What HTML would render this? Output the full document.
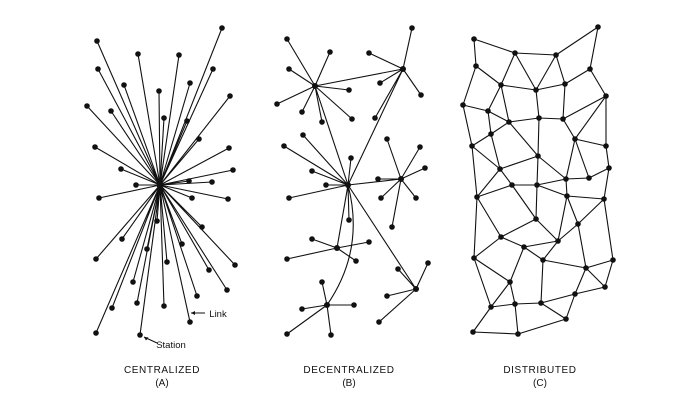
<!DOCTYPE html>
<html><head><meta charset="utf-8"><style>
html,body{margin:0;padding:0;background:#fff;width:684px;height:410px;overflow:hidden}
svg{display:block}
text{font-family:"Liberation Sans",sans-serif;fill:#111}
</style></head><body>
<svg width="684" height="410" viewBox="0 0 684 410" xmlns="http://www.w3.org/2000/svg">
<g stroke="#111" stroke-width="1.1" fill="none">
<!-- A -->
<path d="M160 185L97 41M160 185L222 28M160 185L138 54M160 185L179 55M160 185L98 69M160 185L213 69M160 185L124 85M160 185L190 83M160 185L159 91M160 185L230 96M160 185L87 106M160 185L111 111M160 185L164 118M160 185L187 121M160 185L199 139M160 185L95 147M160 185L229 148M160 185L121 169M160 185L233 170M160 185L189 181M160 185L212 182M160 185L136 185M160 185L99 198M160 185L192 198M160 185L228 199M160 185L157 221M160 185L202 227M160 185L122 239M160 185L182 244M160 185L147 249M160 185L96 259M160 185L167 262M160 185L235 265M160 185L209 270M160 185L133 282M160 185L227 290M160 185L197 296M160 185L137 303M160 185L164 306M160 185L112 308M160 185L190 322M160 185L96 333M160 185L140 335"/>
<path d="M191 313L205 313M157 343L144 337"/>
<!-- B -->
<path d="M315 86L287 39M315 86L330 52M315 86L289 69M315 86L349 90M315 86L277 104M315 86L302 112M315 86L322 122M315 86L352 119M315 86L403 69M315 86L348 185
M403 69L412 28M403 69L369 53M403 69L380 83M403 69L421 95M403 69L375 118M403 69L348 185
M348 185L303 135M348 185L284 146M348 185L351 158M348 185L312 171M348 185L326 185M348 185L289 198M348 185L349 220M348 185L401 179M348 185L416 289M348 185L337 248M348 185Q365 250 327 305
M401 179L387 139M401 179L420 147M401 179L425 168M401 179L378 179M401 179L381 198M401 179L416 198M401 179L392 227
M337 248L312 239M337 248L369 242M337 248L287 259M337 248L356 261
M327 305L322 282M327 305L302 309M327 305L354 305M327 305L287 334M327 305L331 335
M416 289L428 263M416 289L398 269M416 289L387 296M416 289L379 322"/>
<!-- C -->
<path d="M474 39L515 53M474 39L476 66M515 53L556 55M556 55L598 27M598 27L590 69M515 53L501 85M515 53L536 90M556 55L536 90M556 55L565 84M476 66L501 85M476 66L463 105M590 69L565 84M590 69L606 96M501 85L536 90M536 90L565 84M501 85L488 111M501 85L509 122M536 90L539 118M565 84L563 119M463 105L488 111M488 111L509 122M488 111L491 134M509 122L539 118M539 118L563 119M606 96L563 119M606 96L575 139M606 96L606 146M463 105L472 146M491 134L509 122M491 134L472 146M509 122L538 156M539 118L538 156M563 119L575 139M575 139L606 146M575 139L566 179M575 139L589 178M606 146L609 168M472 146L500 169M472 146L477 197M538 156L500 169M538 156L566 179M538 156L537 185M491 134L500 169M500 169L512 185M500 169L477 197M512 185L537 185M537 185L566 179M566 179L589 178M589 178L609 168M609 168L604 199M566 179L567 196M537 185L567 196M567 196L604 199M477 197L512 185M512 185L536 219M537 185L536 219M567 196L578 224M567 196L558 241M604 199L578 224M604 199L613 260M477 197L501 237M477 197L474 258M536 219L501 237M536 219L558 241M501 237L524 247M524 247L558 241M558 241L578 224M578 224L586 268M558 241L543 260M524 247L543 260M543 260L586 268M524 247L510 282M474 258L501 237M474 258L510 282M474 258L491 307M543 260L541 303M510 282L491 307M510 282L515 304M586 268L605 287M613 260L605 287M613 260L586 268M586 268L575 294M605 287L575 294M575 294L541 303M515 304L541 303M491 307L515 304M541 303L566 319M575 294L566 319M491 307L473 332M515 304L518 334M473 332L518 334M518 334L566 319"/>
</g>
<g fill="#111">
<path d="M191 313l4-2v4z M144 337l4.5 0.5-2.5 3z"/>
<!-- A nodes -->
<g>
<circle cx="160" cy="185" r="3.5"/>
<circle cx="97" cy="41" r="2.8"/><circle cx="222" cy="28" r="2.8"/><circle cx="138" cy="54" r="2.8"/><circle cx="179" cy="55" r="2.8"/><circle cx="98" cy="69" r="2.8"/><circle cx="213" cy="69" r="2.8"/><circle cx="124" cy="85" r="2.8"/><circle cx="190" cy="83" r="2.8"/><circle cx="159" cy="91" r="2.8"/><circle cx="230" cy="96" r="2.8"/><circle cx="87" cy="106" r="2.8"/><circle cx="111" cy="111" r="2.8"/><circle cx="164" cy="118" r="2.8"/><circle cx="187" cy="121" r="2.8"/><circle cx="199" cy="139" r="2.8"/><circle cx="95" cy="147" r="2.8"/><circle cx="229" cy="148" r="2.8"/><circle cx="121" cy="169" r="2.8"/><circle cx="233" cy="170" r="2.8"/><circle cx="189" cy="181" r="2.8"/><circle cx="212" cy="182" r="2.8"/><circle cx="136" cy="185" r="2.8"/><circle cx="99" cy="198" r="2.8"/><circle cx="192" cy="198" r="2.8"/><circle cx="228" cy="199" r="2.8"/><circle cx="157" cy="221" r="2.8"/><circle cx="202" cy="227" r="2.8"/><circle cx="122" cy="239" r="2.8"/><circle cx="182" cy="244" r="2.8"/><circle cx="147" cy="249" r="2.8"/><circle cx="96" cy="259" r="2.8"/><circle cx="167" cy="262" r="2.8"/><circle cx="235" cy="265" r="2.8"/><circle cx="209" cy="270" r="2.8"/><circle cx="133" cy="282" r="2.8"/><circle cx="227" cy="290" r="2.8"/><circle cx="197" cy="296" r="2.8"/><circle cx="137" cy="303" r="2.8"/><circle cx="164" cy="306" r="2.8"/><circle cx="112" cy="308" r="2.8"/><circle cx="190" cy="322" r="2.8"/><circle cx="96" cy="333" r="2.8"/><circle cx="140" cy="335" r="2.8"/>
</g>
<!-- B nodes -->
<g>
<circle cx="315" cy="86" r="3"/><circle cx="403" cy="69" r="3"/><circle cx="348" cy="185" r="3"/><circle cx="401" cy="179" r="3"/><circle cx="337" cy="248" r="3"/><circle cx="327" cy="305" r="3"/><circle cx="416" cy="289" r="3"/>
<circle cx="287" cy="39" r="2.8"/><circle cx="330" cy="52" r="2.8"/><circle cx="289" cy="69" r="2.8"/><circle cx="349" cy="90" r="2.8"/><circle cx="277" cy="104" r="2.8"/><circle cx="302" cy="112" r="2.8"/><circle cx="322" cy="122" r="2.8"/><circle cx="352" cy="119" r="2.8"/>
<circle cx="412" cy="28" r="2.8"/><circle cx="369" cy="53" r="2.8"/><circle cx="380" cy="83" r="2.8"/><circle cx="421" cy="95" r="2.8"/><circle cx="375" cy="118" r="2.8"/>
<circle cx="303" cy="135" r="2.8"/><circle cx="284" cy="146" r="2.8"/><circle cx="351" cy="158" r="2.8"/><circle cx="312" cy="171" r="2.8"/><circle cx="326" cy="185" r="2.8"/><circle cx="289" cy="198" r="2.8"/><circle cx="349" cy="220" r="2.8"/>
<circle cx="387" cy="139" r="2.8"/><circle cx="420" cy="147" r="2.8"/><circle cx="425" cy="168" r="2.8"/><circle cx="378" cy="179" r="2.8"/><circle cx="381" cy="198" r="2.8"/><circle cx="416" cy="198" r="2.8"/><circle cx="392" cy="227" r="2.8"/>
<circle cx="312" cy="239" r="2.8"/><circle cx="369" cy="242" r="2.8"/><circle cx="287" cy="259" r="2.8"/><circle cx="356" cy="261" r="2.8"/>
<circle cx="322" cy="282" r="2.8"/><circle cx="302" cy="309" r="2.8"/><circle cx="354" cy="305" r="2.8"/><circle cx="287" cy="334" r="2.8"/><circle cx="331" cy="335" r="2.8"/>
<circle cx="428" cy="263" r="2.8"/><circle cx="398" cy="269" r="2.8"/><circle cx="387" cy="296" r="2.8"/><circle cx="379" cy="322" r="2.8"/>
</g>
<!-- C nodes -->
<g>
<circle cx="474" cy="39" r="2.8"/><circle cx="598" cy="27" r="2.8"/><circle cx="515" cy="53" r="2.8"/><circle cx="556" cy="55" r="2.8"/><circle cx="476" cy="66" r="2.8"/><circle cx="590" cy="69" r="2.8"/><circle cx="501" cy="85" r="2.8"/><circle cx="536" cy="90" r="2.8"/><circle cx="565" cy="84" r="2.8"/><circle cx="606" cy="96" r="2.8"/><circle cx="463" cy="105" r="2.8"/><circle cx="488" cy="111" r="2.8"/><circle cx="509" cy="122" r="2.8"/><circle cx="539" cy="118" r="2.8"/><circle cx="563" cy="119" r="2.8"/><circle cx="491" cy="134" r="2.8"/><circle cx="575" cy="139" r="2.8"/><circle cx="472" cy="146" r="2.8"/><circle cx="606" cy="146" r="2.8"/><circle cx="538" cy="156" r="2.8"/><circle cx="500" cy="169" r="2.8"/><circle cx="609" cy="168" r="2.8"/><circle cx="566" cy="179" r="2.8"/><circle cx="589" cy="178" r="2.8"/><circle cx="512" cy="185" r="2.8"/><circle cx="537" cy="185" r="2.8"/><circle cx="477" cy="197" r="2.8"/><circle cx="567" cy="196" r="2.8"/><circle cx="604" cy="199" r="2.8"/><circle cx="536" cy="219" r="2.8"/><circle cx="578" cy="224" r="2.8"/><circle cx="501" cy="237" r="2.8"/><circle cx="558" cy="241" r="2.8"/><circle cx="524" cy="247" r="2.8"/><circle cx="474" cy="258" r="2.8"/><circle cx="543" cy="260" r="2.8"/><circle cx="613" cy="260" r="2.8"/><circle cx="586" cy="268" r="2.8"/><circle cx="510" cy="282" r="2.8"/><circle cx="605" cy="287" r="2.8"/><circle cx="575" cy="294" r="2.8"/><circle cx="491" cy="307" r="2.8"/><circle cx="515" cy="304" r="2.8"/><circle cx="541" cy="303" r="2.8"/><circle cx="566" cy="319" r="2.8"/><circle cx="473" cy="332" r="2.8"/><circle cx="518" cy="334" r="2.8"/>
</g>
</g>
<g font-size="10" text-anchor="middle">
<text x="218" y="317" font-size="9.5">Link</text>
<text x="171" y="348" font-size="9.5">Station</text>
<text x="162" y="373" letter-spacing="0.6">CENTRALIZED</text>
<text x="162" y="386">(A)</text>
<text x="349" y="373" letter-spacing="0.6">DECENTRALIZED</text>
<text x="349" y="386">(B)</text>
<text x="540" y="373" letter-spacing="0.6">DISTRIBUTED</text>
<text x="540" y="386">(C)</text>
</g>
</svg>
</body></html>
